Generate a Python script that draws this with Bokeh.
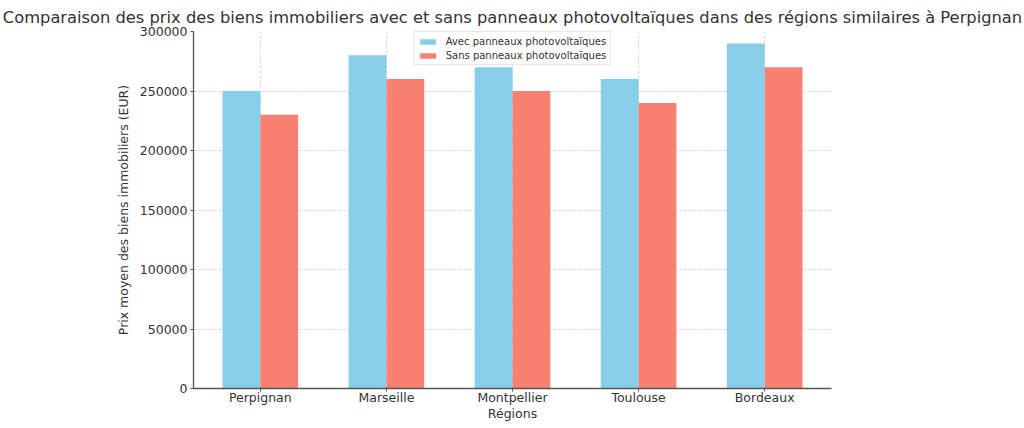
from bokeh.plotting import figure
from bokeh.models import ColumnDataSource, Range1d, BasicTickFormatter, Legend, LegendItem
from bokeh.transform import dodge
from bokeh.embed import file_html
from bokeh.resources import INLINE

# données
regions = ["Perpignan", "Marseille", "Montpellier", "Toulouse", "Bordeaux"]
avec_pv = [250000, 280000, 270000, 260000, 290000]
sans_pv = [230000, 260000, 250000, 240000, 270000]
y_ticks = [0, 50000, 100000, 150000, 200000, 250000, 300000]

titre = "Comparaison des prix des biens immobiliers avec et sans panneaux photovoltaïques dans des régions similaires à Perpignan"
police = "DejaVu Sans"
gris_texte = "#333333"

pos = list(range(len(regions)))
src = ColumnDataSource(data=dict(x=pos, avec=avec_pv, sans=sans_pv))

p = figure(width=1024, height=428, output_backend="svg", toolbar_location=None,
           title=titre,
           x_range=Range1d(-0.53, 4.53), y_range=Range1d(0, 300000),
           min_border_left=193, min_border_right=193, min_border_top=31, min_border_bottom=40)
p.outline_line_color = None

p.title.align = "center"
p.title.text_font = police
p.title.text_font_size = "16.3px"
p.title.text_font_style = "normal"
p.title.text_color = gris_texte
p.title.standoff = 10

b1 = p.vbar(x=dodge("x", -0.15), top="avec", width=0.3, source=src,
            fill_color="#87CEEB", line_color=None)
b2 = p.vbar(x=dodge("x", 0.15), top="sans", width=0.3, source=src,
            fill_color="#FA8072", line_color=None)

# axes
p.xaxis.ticker = pos
p.xaxis.major_label_overrides = {i: r for i, r in enumerate(regions)}
p.yaxis.ticker = y_ticks
p.yaxis.formatter = BasicTickFormatter(use_scientific=False)
p.xaxis.axis_label = "Régions"
p.yaxis.axis_label = "Prix moyen des biens immobiliers (EUR)"

for ax in (p.xaxis[0], p.yaxis[0]):
    ax.axis_line_color = "#555555"
    ax.axis_line_width = 1.3
    ax.major_tick_line_color = "#555555"
    ax.major_tick_out = 3
    ax.major_tick_in = 0
    ax.minor_tick_line_color = None
    ax.major_label_text_font = police
    ax.major_label_text_font_size = "12.5px"
    ax.major_label_text_color = gris_texte
    ax.axis_label_text_font = police
    ax.axis_label_text_font_size = "12.5px"
    ax.axis_label_text_font_style = "normal"
    ax.axis_label_text_color = gris_texte
    ax.major_label_standoff = 3
    ax.axis_label_standoff = 3
p.yaxis.axis_label_standoff = 6
p.xaxis.major_label_standoff = -2
p.xaxis.axis_label_standoff = -2

p.grid.grid_line_color = "#cccccc"
p.grid.grid_line_dash = "3 2"
p.grid.grid_line_width = 0.8

# légende
leg = Legend(items=[LegendItem(label="Avec panneaux photovoltaïques", renderers=[b1]),
                    LegendItem(label="Sans panneaux photovoltaïques", renderers=[b2])],
             location="top_center", margin=0, padding=3, spacing=2,
             glyph_width=20, glyph_height=7, label_height=12,
             label_text_font=police, label_text_font_size="10px",
             label_text_color=gris_texte, label_standoff=8,
             border_line_color="#d0d0d0", background_fill_alpha=0.85)
p.add_layout(leg, "center")

open("out.html", "w").write(file_html(p, INLINE))
